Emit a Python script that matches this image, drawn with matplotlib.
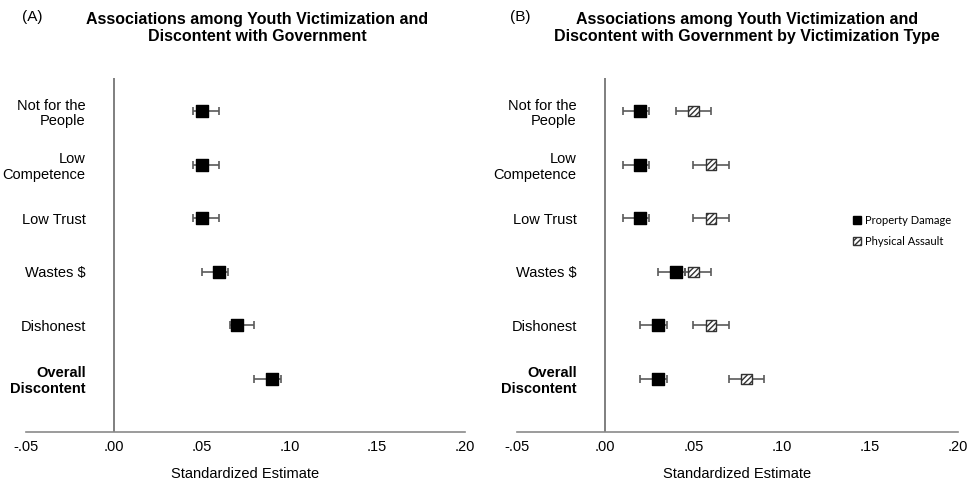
import matplotlib
matplotlib.use("Agg")
import matplotlib.pyplot as plt
from matplotlib.patches import Rectangle

plt.rcParams['font.family'] = ['Liberation Sans', 'DejaVu Sans']
plt.rcParams['hatch.linewidth'] = 1.0

categories = ["Not for the\nPeople", "Low\nCompetence", "Low Trust",
              "Wastes \\$", "Dishonest", "Overall\nDiscontent"]
x_ticks = [-0.05, 0.00, 0.05, 0.10, 0.15, 0.20]
x_tick_labels = ["-.05", ".00", ".05", ".10", ".15", ".20"]

# Panel A: all victimization
all_est = [0.050, 0.050, 0.050, 0.060, 0.070, 0.090]
all_lo = [0.045, 0.045, 0.045, 0.050, 0.066, 0.080]
all_hi = [0.060, 0.060, 0.060, 0.065, 0.080, 0.095]

# Panel B: by victimization type
prop_est = [0.020, 0.020, 0.020, 0.040, 0.030, 0.030]
prop_lo = [0.010, 0.010, 0.010, 0.030, 0.020, 0.020]
prop_hi = [0.025, 0.025, 0.025, 0.045, 0.035, 0.035]

phys_est = [0.050, 0.060, 0.060, 0.050, 0.060, 0.080]
phys_lo = [0.040, 0.050, 0.050, 0.045, 0.050, 0.070]
phys_hi = [0.060, 0.070, 0.070, 0.060, 0.070, 0.090]

W, H = 969, 482
fig = plt.figure(figsize=(W / 100, H / 100), dpi=100)

def make_axes(left_px, right_px):
    top_px, bot_px = 78, 432
    return fig.add_axes([left_px / W, 1 - bot_px / H,
                         (right_px - left_px) / W, (bot_px - top_px) / H])

axA = make_axes(26, 465)
axB = make_axes(517, 958)

ERR_COLOR = "#5a5a5a"
AXIS_COLOR = "#8a8a8a"

def draw_series(ax, est, lo, hi, hatched):
    ys = list(range(len(est)))
    xerr = [[e - l for e, l in zip(est, lo)], [h - e for e, h in zip(est, hi)]]
    ax.errorbar(est, ys, xerr=xerr, fmt="none", ecolor=ERR_COLOR,
                elinewidth=1.2, capsize=3, capthick=1.2, zorder=2)
    if hatched:
        ax.scatter(est, ys, marker="s", s=58, facecolor="white",
                   edgecolor="#333333", linewidths=1.0, hatch="//////", zorder=3)
    else:
        ax.scatter(est, ys, marker="s", s=64, color="black", zorder=3)

def style_axes(ax):
    ax.set_xlim(-0.05, 0.20)
    ax.set_ylim(len(categories) - 0.01, -0.62)
    for side in ("top", "right", "left"):
        ax.spines[side].set_visible(False)
    ax.spines["bottom"].set_color(AXIS_COLOR)
    ax.spines["bottom"].set_linewidth(1.2)
    ax.axvline(0, color="#6a6a6a", lw=1.2, zorder=1)
    ax.set_xticks(x_ticks)
    ax.set_xticklabels(x_tick_labels, fontsize=10.5)
    ax.set_yticks(range(len(categories)))
    ax.set_yticklabels(categories, fontsize=10.5, linespacing=1.15)
    ax.get_yticklabels()[-1].set_fontweight("bold")
    ax.tick_params(axis="both", length=0)
    ax.tick_params(axis="x", pad=6)
    # category names sit inside the plotting area, left of the zero line
    ax.tick_params(axis="y", pad=-43)
    ax.set_xlabel("Standardized Estimate", fontsize=10.5, labelpad=9)

draw_series(axA, all_est, all_lo, all_hi, hatched=False)
draw_series(axB, prop_est, prop_lo, prop_hi, hatched=False)
draw_series(axB, phys_est, phys_lo, phys_hi, hatched=True)
style_axes(axA)
style_axes(axB)

fig.text(257 / W, 1 - 28 / H,
         "Associations among Youth Victimization and\nDiscontent with Government",
         ha="center", va="center", fontsize=11.5, fontweight="bold", linespacing=1.2)
fig.text(747 / W, 1 - 28 / H,
         "Associations among Youth Victimization and\nDiscontent with Government by Victimization Type",
         ha="center", va="center", fontsize=11.5, fontweight="bold", linespacing=1.2)
fig.text(22 / W, 1 - 17 / H, "(A)", ha="left", va="center", fontsize=11)
fig.text(510 / W, 1 - 17 / H, "(B)", ha="left", va="center", fontsize=11)

handles = [
    Rectangle((0, 0), 1, 1, facecolor="black", edgecolor="black"),
    Rectangle((0, 0), 1, 1, facecolor="white", edgecolor="#333333",
              hatch="//////", linewidth=1.0),
]
fig.legend(handles, ["Property Damage", "Physical Assault"],
           loc="center left", bbox_to_anchor=(853 / W, 1 - 231 / H),
           frameon=False, prop={"family": "Lato", "size": 8},
           handlelength=0.7, handleheight=0.7, handletextpad=0.4,
           labelspacing=0.9, borderaxespad=0, borderpad=0)

fig.savefig("out.png", dpi=100, facecolor="white")
